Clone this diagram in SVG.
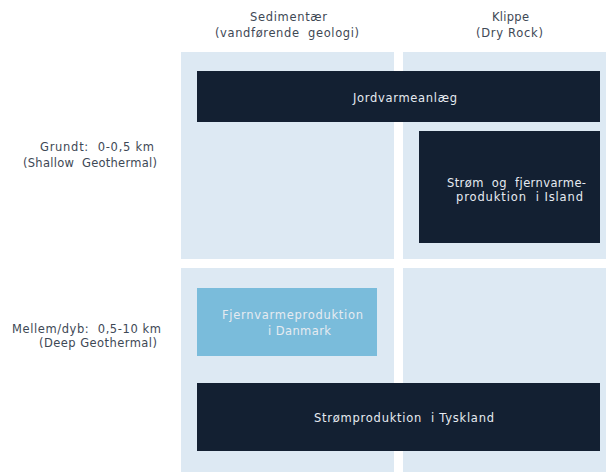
<svg xmlns="http://www.w3.org/2000/svg" width="606" height="472" viewBox="0 0 606 472">
<style>
.panel{fill:#dde9f3}
.dark{fill:#132032}
.light{fill:#7abcdb}
text{font-family:"DejaVu Sans","Liberation Sans",sans-serif;font-size:11.5px;white-space:pre}
.lbl{fill:#3e4855}
.inv{fill:#e6ebf1}
</style>
<rect width="606" height="472" fill="#ffffff"/>
<g id="panels">
<rect class="panel" x="181" y="52" width="213" height="207"/>
<rect class="panel" x="403" y="52" width="203" height="207"/>
<rect class="panel" x="181" y="268" width="213" height="204"/>
<rect class="panel" x="403" y="268" width="203" height="204"/>
</g>
<g id="headers">
<text class="lbl" x="250" y="21" textLength="77" lengthAdjust="spacing">Sedimentær</text>
<text class="lbl" x="215" y="37" textLength="144" lengthAdjust="spacing">(vandførende  geologi)</text>
<text class="lbl" x="492" y="21" textLength="37" lengthAdjust="spacing">Klippe</text>
<text class="lbl" x="476" y="37" textLength="67" lengthAdjust="spacing">(Dry Rock)</text>
</g>
<g id="rows">
<text class="lbl" x="40" y="151" textLength="114" lengthAdjust="spacing">Grundt:  0-0,5 km</text>
<text class="lbl" x="23" y="167" textLength="134" lengthAdjust="spacing">(Shallow  Geothermal)</text>
<text class="lbl" x="12" y="333" textLength="149" lengthAdjust="spacing">Mellem/dyb:  0,5-10 km</text>
<text class="lbl" x="39" y="347" textLength="118" lengthAdjust="spacing">(Deep Geothermal)</text>
</g>
<g id="jordvarme">
<rect class="dark" x="197" y="71" width="403" height="51"/>
<text class="inv" x="353" y="102" textLength="104" lengthAdjust="spacing">Jordvarmeanlæg</text>
</g>
<g id="island">
<rect class="dark" x="419" y="131" width="181" height="112"/>
<text class="inv" x="447" y="187" textLength="139" lengthAdjust="spacing">Strøm  og  fjernvarme-</text>
<text class="inv" x="456" y="201" textLength="127" lengthAdjust="spacing">produktion  i Island</text>
</g>
<g id="danmark">
<rect class="light" x="197" y="288" width="180" height="68"/>
<text class="inv" x="222" y="319" textLength="141" lengthAdjust="spacing">Fjernvarmeproduktion</text>
<text class="inv" x="268" y="335" textLength="63" lengthAdjust="spacing">i Danmark</text>
</g>
<g id="tyskland">
<rect class="dark" x="197" y="383" width="403" height="68"/>
<text class="inv" x="314" y="422" textLength="180" lengthAdjust="spacing">Strømproduktion  i Tyskland</text>
</g>
<g id="connectors"/>
</svg>
